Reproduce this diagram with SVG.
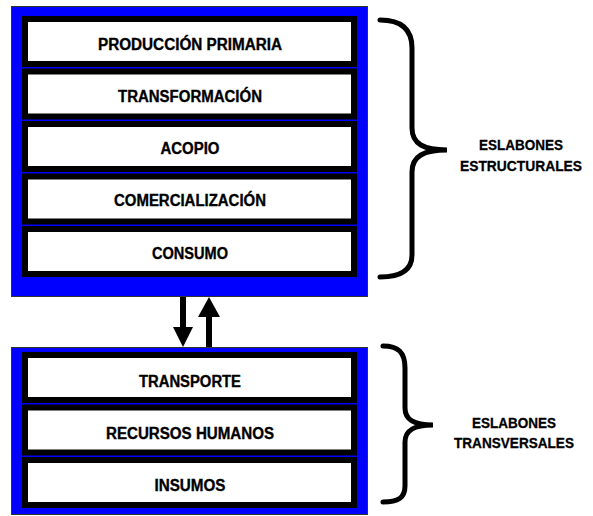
<svg xmlns="http://www.w3.org/2000/svg" width="593" height="516" viewBox="0 0 593 516">
<style>
.frame{fill:#0000ff;stroke:#333;stroke-width:1}
.box{fill:#fff;stroke:#000;stroke-width:6}
.t{font-family:"Liberation Sans",Arial,sans-serif;font-weight:bold;font-size:16px;fill:#000;stroke:#000;stroke-width:0.35;text-anchor:middle}
.lbl{font-family:"Liberation Sans",Arial,sans-serif;font-weight:bold;font-size:15px;fill:#000;stroke:#000;stroke-width:0.3;text-anchor:middle}
.brace{fill:none;stroke:#000;stroke-width:5;stroke-linecap:round}
.shaft{stroke:#000;stroke-width:6}
</style>
<g id="estructurales">
<rect class="frame" x="11.5" y="6.5" width="356" height="290"/>
<g id="produccion"><rect class="box" x="25" y="19" width="329" height="45"/><text class="t" x="190" y="50" textLength="184" lengthAdjust="spacingAndGlyphs">PRODUCCIÓN PRIMARIA</text></g>
<g id="transformacion"><rect class="box" x="25" y="71.5" width="329" height="45"/><text class="t" x="190" y="101.5" textLength="144" lengthAdjust="spacingAndGlyphs">TRANSFORMACIÓN</text></g>
<g id="acopio"><rect class="box" x="25" y="124" width="329" height="45"/><text class="t" x="190" y="153.5" textLength="59" lengthAdjust="spacingAndGlyphs">ACOPIO</text></g>
<g id="comercializacion"><rect class="box" x="25" y="176.5" width="329" height="45"/><text class="t" x="190" y="206" textLength="152" lengthAdjust="spacingAndGlyphs">COMERCIALIZACIÓN</text></g>
<g id="consumo"><rect class="box" x="25" y="229" width="329" height="45"/><text class="t" x="190" y="259" textLength="76" lengthAdjust="spacingAndGlyphs">CONSUMO</text></g>
</g>
<g id="transversales">
<rect class="frame" x="11.5" y="347.5" width="356" height="167"/>
<g id="transporte"><rect class="box" x="25" y="355" width="329" height="45"/><text class="t" x="190" y="387" textLength="102" lengthAdjust="spacingAndGlyphs">TRANSPORTE</text></g>
<g id="recursos"><rect class="box" x="25" y="407.5" width="329" height="45"/><text class="t" x="190" y="439" textLength="168" lengthAdjust="spacingAndGlyphs">RECURSOS HUMANOS</text></g>
<g id="insumos"><rect class="box" x="25" y="460" width="329" height="45"/><text class="t" x="190" y="491" textLength="71" lengthAdjust="spacingAndGlyphs">INSUMOS</text></g>
</g>
<g id="connectors">
<line class="shaft" x1="183" y1="297" x2="183" y2="328"/>
<polygon points="173,327 193,327 183,347"/>
<line class="shaft" x1="209" y1="347" x2="209" y2="316"/>
<polygon points="198,317 220,317 209,297"/>
<path class="brace" d="M380,20 C400,20 412,28 412,48 L412,128 C412,144 424,150 447,150 C424,150 412,156 412,172 L412,255 C412,271 400,277 380,277"/>
<path class="brace" d="M383,346 C398,346 405,352 405,368 L405,408 C405,420 414,425 433,425 C414,425 405,430 405,442 L405,486 C405,498 398,502 383,502"/>
</g>
<g id="labels">
<text class="lbl" x="521" y="150" textLength="84" lengthAdjust="spacingAndGlyphs">ESLABONES</text>
<text class="lbl" x="521" y="171" textLength="122" lengthAdjust="spacingAndGlyphs">ESTRUCTURALES</text>
<text class="lbl" x="514" y="428" textLength="84" lengthAdjust="spacingAndGlyphs">ESLABONES</text>
<text class="lbl" x="514" y="448" textLength="120" lengthAdjust="spacingAndGlyphs">TRANSVERSALES</text>
</g>
</svg>
